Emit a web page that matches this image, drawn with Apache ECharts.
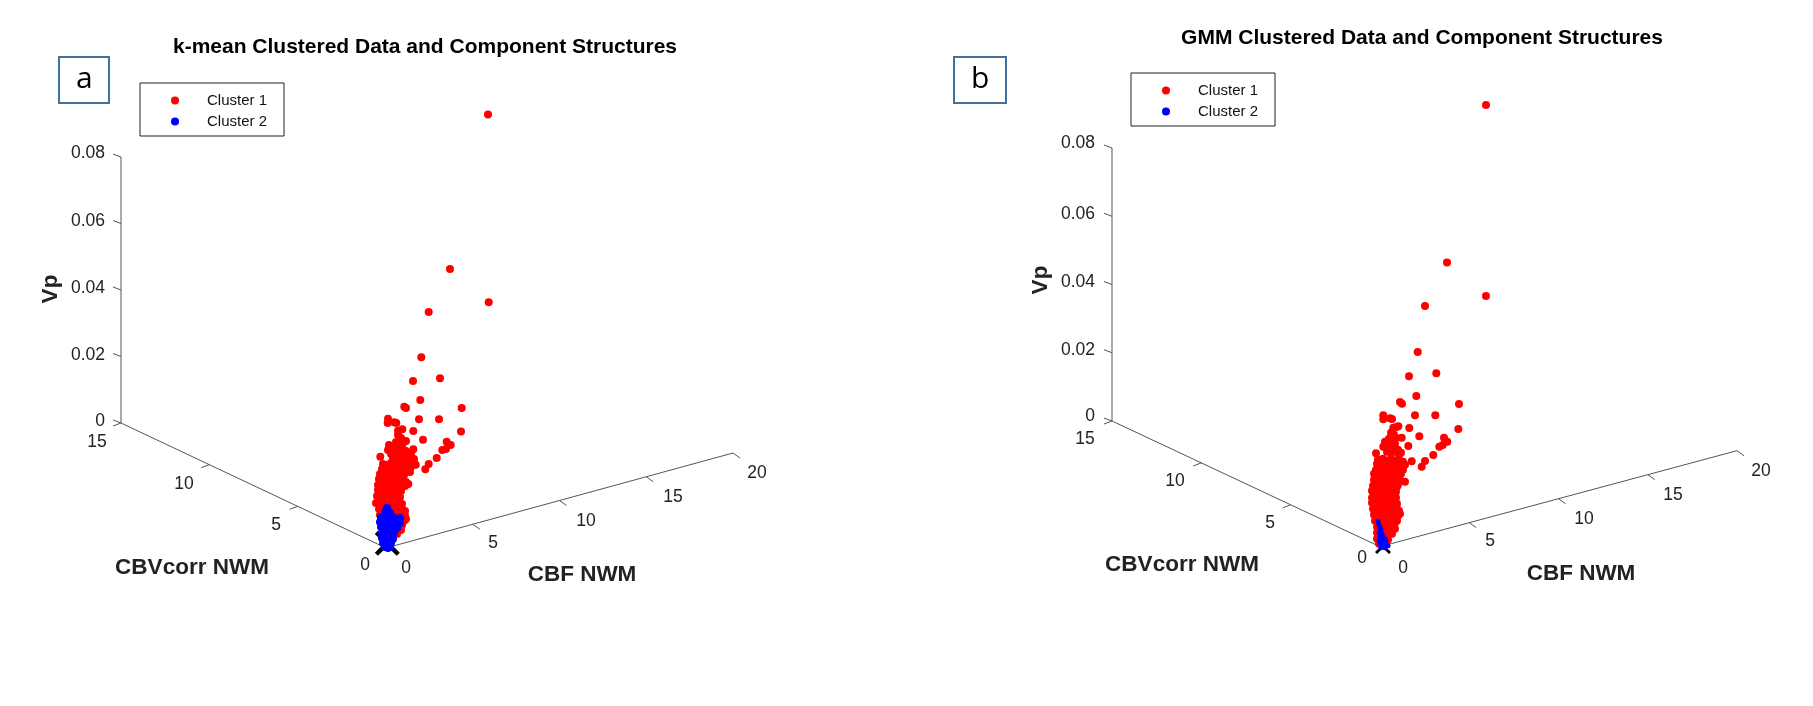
<!DOCTYPE html>
<html><head><meta charset="utf-8">
<style>html,body{margin:0;padding:0;background:#fff}#c{width:1813px;height:706px}</style>
<script src="https://cdn.jsdelivr.net/npm/echarts@6/dist/echarts.min.js"></script>
</head><body><div id="c"></div>
<script>
// Tick labels
const vpTicks = ['0','0.02','0.04','0.06','0.08'];
const cbvTicks = ['0','5','10','15'];
const cbfTicks = ['0','5','10','15','20'];
const clusterNames = ['Cluster 1','Cluster 2'];

// Values: [horizontal offset, height] from the axes' corner
const kmeanCluster1 = [
[102,433.5],[64,279],[102.7,245.7],[42.7,236],[35.3,190.7],[27,167],[54,169.7],[34.3,148],[18.3,141.3],[20,140],[75.7,140],
[2,129.3],[1.7,125],[8.3,125.7],[10.3,125],[33,128.7],[53,128.7],[12,117.3],[16.3,118.7],[27.3,117],[75,116.5],[37,108.3],
[20,107],[60.7,106.3],[64.7,103],[60,99],[56.3,98],[50.7,90],[42.7,84],[39.3,78.7],[29.7,83.3],[22.3,64],[-5.7,91.3],[3,103],[2,98],[27.3,98.7],
[12,113],[15,110],[10,106],[14,104],[17,105],[8,100],[12,99],[16,101],[20,97],[25,95],
[5,94],[9,95],[13,93],[17,94],[21,92],[25,90],[28,89],[7,89],[11,88],[15,89],[19,87],[23,86],[28,84],
[-3,84],[1,83],[5,85],[9,83],[13,84],[17,82],[21,83],[25,81],[-4,79],[0,78],[4,80],[8,78],[12,79],[16,77],[20,78],[24,76],
[-6,74],[-2,73],[2,75],[6,73],[10,74],[14,72],[18,73],[-7,69],[-3,68],[1,70],[5,68],[9,69],[13,67],[17,68],[20,66],
[-8,63],[-4,64],[0,62],[4,64],[8,62],[12,63],[16,61],[19,62],[-8,58],[-4,57],[0,58],[4,56],[8,58],[12,56],[15,57],
[-9,52],[-5,51],[-1,52],[3,50],[7,52],[11,50],[14,51],[-10,45],[-6,46],[-2,44],[2,46],[6,44],[10,46],[14,45],[16,44],
[-7,39],[-3,40],[1,38],[5,40],[9,38],[13,40],[17,38],[19,37],[-6,33],[-2,34],[8,33],[12,34],[16,33],[19,32],
[-5,28],[-1,27],[14,28],[18,27],[20,29],[-4,22],[12,22],[16,23],[15,18],[-3,15],[11,14]
];
const kmeanCluster2 = [
[1,40],[2,37],[-1,36],[4,35],[-5,31],[-1,31],[3,30],[7,31],[11,29],[14,30],[-6,26],[-2,25],[2,26],[6,25],[10,26],[14,25],
[-5,21],[-1,20],[3,21],[7,20],[11,20],[-4,15],[0,15],[4,14],[8,15],[-4,10],[0,9],[4,10],[7,9],[-3,5],[1,4],[5,5],[-1,1],[2,0],[4,1]
];
const kmeanCentroid = [[1.3,4.7]];
const gmmCluster1 = [
[106,441.7],[67,284.2],[106,250.7],[45,240.7],[37.7,194.7],[29,170.4],[56.3,173.4],[36.3,150.7],[20,144.7],[22,143],[79,142.7],
[3.3,131.4],[3.3,127.4],[10,128.4],[12,127.7],[35,131.4],[55.3,131.4],[13.3,119],[18.3,120.4],[16,119.4],[29.3,118.7],[78.3,117.7],
[39.3,110.4],[21.7,109],[64,109],[67.3,105],[62.7,101.7],[59.3,100],[53.3,91.7],[45,85.7],[41.7,80],[31.7,85.4],[25,65],[-4,93.4],[5,105],[3.3,100],[28.3,100.7],
[11,114],[14,112],[9,108],[12,106],[16,109],[8,102],[12,100],[15,103],[18,97],[7,95],[11,94],[15,95],[19,92],[21,94],
[-2,87],[3,88],[7,86],[11,88],[15,86],[19,87],[23,85],[-3,83],[1,82],[5,84],[9,82],[13,83],[17,81],[21,83],[25,82],
[-4,77],[0,78],[4,76],[8,78],[12,76],[16,78],[20,76],[23,77],[-6,73],[-2,72],[2,73],[6,71],[10,73],[14,71],[18,72],[21,73],
[-6,67],[-2,68],[2,66],[6,68],[10,66],[14,68],[18,66],[20,67],[-7,61],[-3,62],[1,60],[5,62],[9,60],[13,62],[17,60],[18,62],
[-8,56],[-4,55],[0,56],[4,54],[8,56],[12,54],[16,55],[-8,49],[-4,50],[0,48],[4,50],[8,48],[12,50],[16,49],
[-8,44],[-5,43],[-1,44],[3,42],[7,44],[11,42],[15,44],[17,43],[-7,38],[-3,37],[1,38],[5,36],[9,38],[13,36],[17,38],[19,36],
[-6,32],[-2,31],[2,32],[6,30],[10,32],[14,30],[18,31],[20,33],[-5,26],[-1,25],[3,26],[7,24],[11,26],[15,24],[17,26],
[-3,20],[1,19],[5,20],[9,19],[13,20],[15,18],[-3,14],[1,13],[5,14],[9,13],[12,13],[-3,8],[1,7],[5,8],[8,7],[-1,3],[3,2],[6,3]
];
const gmmCluster2 = [
[-2,25],[-1,22],[0,19],[1,17],[-1,14],[2,13],[0,10],[3,10],[5,8],[-1,6],[2,6],[6,5],[0,2],[3,2],[6,1],[8,1],[1,-1],[5,-1]
];
const gmmCentroid = [[3,0.7]];

// Layout (page pixels)
const FONT = '"Liberation Sans", Arial, sans-serif';
const XMARK = 'path://M3,0 L12,9 L21,0 L24,3 L15,12 L24,21 L21,24 L12,15 L3,24 L0,21 L9,12 L0,3 Z';
const panels = [
 { tag:'a', title:'k-mean Clustered Data and Component Structures', titleX:425, titleY:47,
   box:[59,57,53,46], legend:[140,83],
   gridL:0, gridW:906, ox:386, oy:548,
   cbvEnd:[-265,125], cbfEnd:[347,95], vpTop:391,
   vpPos:[[100,421],[88,355],[88,288],[88,221],[88,153]],
   cbvPos:[[365,565],[276,525],[184,484],[97,442]],
   cbfPos:[[406,568],[493,543],[586,521],[673,497],[757,473]],
   cbvName:[192,568], cbfName:[582,575], vpName:[51,289],
   red:kmeanCluster1, blue:kmeanCluster2, cent:kmeanCentroid, blueSize:8, centSize:25 },
 { tag:'b', title:'GMM Clustered Data and Component Structures', titleX:1422, titleY:38,
   box:[954,57,53,46], legend:[1131,73],
   gridL:906, gridW:907, ox:1380, oy:546.7,
   cbvEnd:[-268,125.7], cbfEnd:[357,96], vpTop:398.7,
   vpPos:[[1090,416],[1078,350],[1078,282],[1078,214],[1078,143]],
   cbvPos:[[1362,558],[1270,523],[1175,481],[1085,439]],
   cbfPos:[[1403,568],[1490,541],[1584,519],[1673,495],[1761,471]],
   cbvName:[1182,565], cbfName:[1581,574], vpName:[1041,280],
   red:gmmCluster1, blue:gmmCluster2, cent:gmmCentroid, blueSize:5, centSize:16 }
];

const option = {animation:false, backgroundColor:'#fff', title:[], legend:[], grid:[], xAxis:[], yAxis:[], series:[]};

panels.forEach((p,i)=>{
  option.grid.push({left:p.gridL, width:p.gridW, top:0, height:706});
  option.xAxis.push({gridIndex:i, type:'value', show:false, min:p.gridL-p.ox, max:p.gridL+p.gridW-p.ox});
  option.yAxis.push({gridIndex:i, type:'value', show:false, min:p.oy-706, max:p.oy});
  const base = {xAxisIndex:i, yAxisIndex:i, silent:true};

  option.title.push({text:p.title, left:p.titleX, top:p.titleY, textAlign:'center', textVerticalAlign:'middle', padding:0,
    textStyle:{fontFamily:FONT, fontWeight:'bold', fontSize:21, color:'#000'}});
  option.title.push({text:p.tag, left:p.box[0], top:p.box[1], padding:[6,17,8,17], borderColor:'#41719c', borderWidth:2,
    textStyle:{fontFamily:'"Open Sans", sans-serif', fontWeight:'normal', fontSize:30, lineHeight:32, color:'#000'}});
  option.legend.push({orient:'vertical', left:p.legend[0], top:p.legend[1], data:clusterNames, selectedMode:false,
    icon:'circle', itemWidth:40, itemHeight:8, itemGap:6, padding:[10,17,7,31], borderColor:'#222', borderWidth:1,
    itemStyle:{borderWidth:0, opacity:1}, textStyle:{fontFamily:FONT, fontSize:15, color:'#111', padding:[0,0,0,7]}});

  // axis frame and ticks
  const segs = [];
  const seg = (a,b)=>{segs.push(a,b,[null,null]);};
  seg([0,0],p.cbvEnd); seg([0,0],p.cbfEnd);
  const vb = p.cbvEnd[1];
  seg([p.cbvEnd[0],vb],[p.cbvEnd[0],p.vpTop]);
  vpTicks.forEach((t,k)=>{const v=vb+(p.vpTop-vb)*k/(vpTicks.length-1);
    seg([p.cbvEnd[0],v],[p.cbvEnd[0]-8,v+3]);});
  cbvTicks.forEach((t,k)=>{ if(!k) return; const f=k/(cbvTicks.length-1), u=p.cbvEnd[0]*f, v=p.cbvEnd[1]*f;
    seg([u,v],[u-8,v-3]);});
  cbfTicks.forEach((t,k)=>{ if(!k) return; const f=k/(cbfTicks.length-1), u=p.cbfEnd[0]*f, v=p.cbfEnd[1]*f;
    seg([u,v],[u+7,v-5]);});
  option.series.push({...base, type:'line', data:segs, showSymbol:false, connectNulls:false, z:1,
    lineStyle:{color:'#555', width:1}});

  // text labels
  const toPlot = q=>[q[0]-p.ox, p.oy-q[1]];
  const lbl = (text,q,extra)=>({value:toPlot(q), label:Object.assign({show:true, position:'inside', formatter:text,
     align:'center', verticalAlign:'middle', fontFamily:FONT, fontSize:17.5, color:'#222'},extra||{})});
  const labels = [];
  vpTicks.forEach((t,k)=>labels.push(lbl(t,p.vpPos[k])));
  cbvTicks.forEach((t,k)=>labels.push(lbl(t,p.cbvPos[k])));
  cbfTicks.forEach((t,k)=>labels.push(lbl(t,p.cbfPos[k])));
  const nameStyle = {fontWeight:'bold', fontSize:22.5};
  labels.push(lbl('CBVcorr NWM',p.cbvName,nameStyle));
  labels.push(lbl('CBF NWM',p.cbfName,nameStyle));
  labels.push(lbl('Vp',p.vpName,Object.assign({rotate:90},nameStyle)));
  option.series.push({...base, type:'scatter', data:labels, symbolSize:1, itemStyle:{color:'rgba(0,0,0,0)', opacity:1}, z:5});

  option.series.push({...base, name:'Centroids', type:'scatter', data:p.cent, symbol:XMARK, symbolSize:p.centSize, itemStyle:{color:'#000', opacity:1}, z:2});
  option.series.push({...base, name:clusterNames[0], type:'scatter', data:p.red, symbol:'circle', symbolSize:8, itemStyle:{color:'#ff0000', opacity:1}, z:3});
  option.series.push({...base, name:clusterNames[1], type:'scatter', data:p.blue, symbol:'circle', symbolSize:p.blueSize, itemStyle:{color:'#0000ff', opacity:1}, z:4});
});

echarts.init(document.getElementById('c'),null,{renderer:'canvas'}).setOption(option);
</script></body></html>
